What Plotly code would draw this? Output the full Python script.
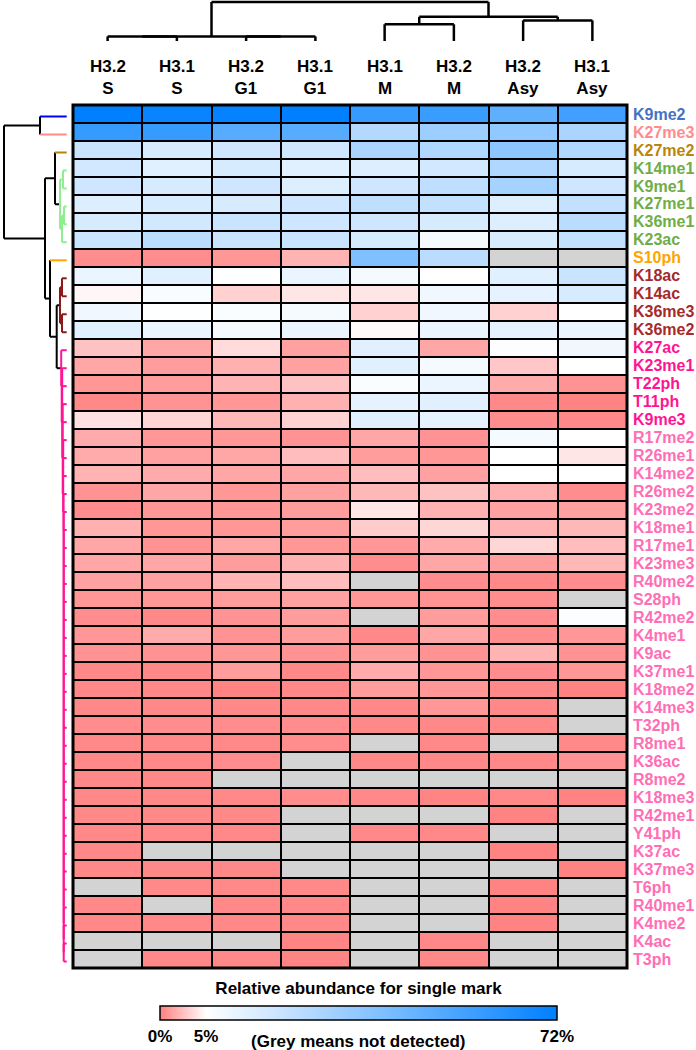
import plotly.graph_objects as go

FONT = "Liberation Sans, Arial, sans-serif"
W, H = 696, 1050

# ---------------- data ----------------
columns = ["H3.2<br>S", "H3.1<br>S", "H3.2<br>G1", "H3.1<br>G1",
           "H3.1<br>M", "H3.2<br>M", "H3.2<br>Asy", "H3.1<br>Asy"]

marks = ["K9me2", "K27me3", "K27me2", "K14me1", "K9me1", "K27me1", "K36me1", "K23ac",
         "S10ph", "K18ac", "K14ac", "K36me3", "K36me2", "K27ac", "K23me1", "T22ph",
         "T11ph", "K9me3", "R17me2", "R26me1", "K14me2", "R26me2", "K23me2", "K18me1",
         "R17me1", "K23me3", "R40me2", "S28ph", "R42me2", "K4me1", "K9ac", "K37me1",
         "K18me2", "K14me3", "T32ph", "R8me1", "K36ac", "R8me2", "K18me3", "R42me1",
         "Y41ph", "K37ac", "K37me3", "T6ph", "R40me1", "K4me2", "K4ac", "T3ph"]

# label colour groups (row clusters)
label_colors = (["#4472C4", "#FF8C8C", "#B8860B"] + ["#70AD47"] * 5 + ["#FFA500"]
                + ["#A52A2A"] * 4 + ["#FF1493"] * 5 + ["#FF6EB4"] * 30)
branch_colors = (["#0000FF", "#FF8A8A", "#B8860B"] + ["#90EE90"] * 5 + ["#FFA500"]
                 + ["#8B1A1A"] * 4 + ["#FF1493"] * 35)

N = None  # not detected
H32_S = [72, 58, 19.5, 17, 18, 14, 15.5, 19.5, 0.5, 10.3, 4.7, 9.0, 13, 2.6, 1.5, 0.9,
         0.3, 3.8, 1.7, 1.7, 2.0, 0.7, 0.5, 1.9, 1.5, 1.5, 1.3, 0.9, 0.5, 0.9, 0.7, 0.3,
         0.3, 0.3, 0.5, 0.3, 0.3, 0.3, 0.3, 0.3, 0.3, 0.3, 0.3, N, 0.3, 0.3, N, N]
H31_S = [70, 58, 15.5, 13, 15.5, 15.5, 17, 23.5, 0.5, 13, 6.8, 5.2, 10.3, 1.5, 1.1, 1.1,
         0.7, 3.4, 0.9, 1.3, 1.7, 1.5, 0.9, 0.9, 0.7, 1.5, 1.3, 0.9, 0.3, 1.7, 0.7, 0.3,
         0.3, 0.3, 0.5, 0.3, 0.3, 0.3, 0.3, 0.3, 0.3, N, 0.3, 0.3, N, 0.3, N, 0.3]
H32_G1 = [71, 49, 18, 15.5, 18, 15.5, 19.5, 19.5, 0.9, 5.0, 3.2, 6.3, 7.6, 3.6, 1.9, 2.0,
          0.9, 2.2, 0.9, 1.5, 1.5, 0.9, 0.9, 0.9, 1.5, 1.1, 2.0, 1.1, 0.7, 0.7, 0.9, 1.1,
          0.1, 0.3, 0.5, 0.3, 0.5, N, 0.3, 0.3, 0.3, N, 0.3, 0.3, 0.3, 0.3, N, 0.3]
H31_G1 = [72, 49, 18, 13, 14, 18, 18, 19.5, 2.0, 10.3, 4.0, 7.6, 10.3, 1.3, 1.3, 2.6,
          1.9, 3.2, 0.7, 2.4, 1.5, 1.3, 1.1, 1.1, 0.9, 1.9, 2.4, 1.3, 1.1, 1.1, 0.7, 0.3,
          0.3, 0.3, 0.5, 0.5, N, N, 0.5, N, N, N, N, 0.3, 0.3, 0.3, 0.2, 0.2]
H31_M = [58, 25, 27, 14, 18, 22, 18, 15.5, 38, 7.6, 4.0, 3.2, 4.8, 13, 13, 6.3,
         11.6, 13, 1.5, 1.1, 2.4, 2.2, 4.0, 3.0, 0.9, 0.5, N, 0.9, N, 0.3, 1.1, 1.7,
         1.1, 0.3, 0.3, N, 0.3, N, 0.3, N, 0.3, N, N, N, N, N, N, N]
H32_M = [57, 31, 26, 17, 22, 21, 15.5, 7.6, 23.5, 5.0, 9.0, 9.0, 10.3, 1.5, 7.6, 10.3,
         13, 11.6, 0.7, 0.9, 1.3, 2.6, 1.9, 3.4, 1.7, 1.5, 0.5, 0.7, 1.1, 1.5, 0.7, 0.9,
         0.9, 0.9, 0.3, 0.3, 0.3, N, 0.2, N, 0.3, N, N, N, N, N, 0.3, 0.3]
H32_Asy = [47, 34, 35, 26, 28.5, 14, 14, 15.5, N, 13, 11.6, 3.2, 11.6, 5.8, 2.8, 1.7,
           0.3, 0.5, 7.6, 5.0, 5.0, 1.9, 1.3, 2.0, 3.4, 1.1, 0.3, 0.5, 0.5, 0.5, 2.0, 0.5,
           0.3, 0.3, 0.3, N, 0.3, N, 0.3, 0.1, N, 0.1, N, 0.1, 0.1, 0.1, N, N]
H31_Asy = [55, 27, 26, 15.5, 18, 21, 23.5, 21, N, 19.5, 15.5, 5.0, 10.3, 9.0, 5.0, 0.7,
           0.1, 0.3, 5.0, 4.0, 5.0, 0.5, 1.3, 2.2, 2.4, 2.2, 0.5, N, 5.8, 0.9, 0.7, 0.9,
           0.1, N, N, 0.3, 0.7, N, 0.1, N, N, N, 0.1, N, N, N, N, N]

column_series = [H32_S, H31_S, H32_G1, H31_G1, H31_M, H32_M, H32_Asy, H31_Asy]

# colour scale ticks (percent)
scale_min, scale_mid, scale_max = 0.0, 5.0, 72.0
scale_ticktext = ["0%", "5%", "72%"]

# dendrogram merge heights (distance units)
col_tree = (((0, 1, 4.6, None), (2, 3, 4.6, None), 4.6, None),
            ((4, 5, 16.7, None), (6, 7, 20.6, None), 24.2, None),
            39.0, None)

pink_chain_heights = [5.5, 4.5, 5.0, 4.0, 4.5, 3.5, 4.0, 3.5, 3.2] + [3.0] * 25  # rows 13..46

# ---------------- helpers ----------------
WHITE_POS = 0.116  # position of the 5% stop on the colour bar


def to_scale(v):
    if v is None:
        return None
    if v <= scale_mid:
        return WHITE_POS * (v - scale_min) / (scale_mid - scale_min)
    return WHITE_POS + (1 - WHITE_POS) * (v - scale_mid) / (scale_max - scale_mid)


def px(x):
    return x / W


def py(y):
    return 1 - y / H


nrows, ncols = len(marks), len(columns)
z = [[to_scale(column_series[c][r]) for c in range(ncols)] for r in range(nrows)]
zmiss = [[1 if column_series[c][r] is None else None for c in range(ncols)] for r in range(nrows)]

# row tree
G = branch_colors[3]
R = branch_colors[9]
P = branch_colors[13]
green = ((3, 4, 3.7, G), ((5, 6, 2.7, G), 7, 4.7, G), 6.7, G)
brown = ((9, 10, 4.7, R), (11, 12, 4.7, R), 6.7, R)
pink = nrows - 1
for i in range(nrows - 2, 12, -1):
    pink = (i, pink, pink_chain_heights[i - 13], P)
row_tree = ((0, 1, 26.7, None),
            ((2, green, 11.7, None), (8, (brown, pink, 10.0, None), 16.7, None), 21.7, None),
            62.7, None)


def draw(node, segs, leaf_color):
    if isinstance(node, int):
        return float(node), 0.0, leaf_color[node], True
    left, right, h, col = node
    pl, hl, cl, il = draw(left, segs, leaf_color)
    pr, hr, cr, ir = draw(right, segs, leaf_color)
    segs.append((h, pl, h, pr, col or "black"))
    for p, hc, cc, isleaf in ((pl, hl, cl, il), (pr, hr, cr, ir)):
        hcol = col if col else (cc if isleaf else "black")
        segs.append((hc, p, h, p, hcol))
    return (pl + pr) / 2, h, col, False


def seg_traces(segs, horizontal_height, xa, ya, width):
    by_color = {}
    for h0, p0, h1, p1, c in segs:
        xs, ys = by_color.setdefault(c, ([], []))
        if horizontal_height:
            xs += [h0, h1, None]
            ys += [p0, p1, None]
        else:
            xs += [p0, p1, None]
            ys += [h0, h1, None]
    out = []
    for c, (xs, ys) in by_color.items():
        out.append(go.Scatter(x=xs, y=ys, mode="lines", xaxis=xa, yaxis=ya,
                              line=dict(color=c, width=width), hoverinfo="skip",
                              showlegend=False))
    return out


# ---------------- figure ----------------
HX0, HX1, HY0, HY1 = 73, 627, 105, 968
fig = go.Figure()

colorscale = [[0, "rgb(255,128,128)"], [WHITE_POS, "rgb(255,255,255)"], [1, "rgb(0,128,255)"]]
fig.add_trace(go.Heatmap(
    z=z, x=list(range(ncols)), y=list(range(nrows)), zmin=0, zmax=1,
    colorscale=colorscale, xgap=2, ygap=2, hoverinfo="skip",
    colorbar=dict(orientation="h", x=358.5 / W, xanchor="center", y=py(987), yanchor="top",
                  len=397 / W, lenmode="fraction", thickness=14, thicknessmode="pixels",
                  outlinewidth=1.5, outlinecolor="black", xpad=0, ypad=0,
                  tickvals=[to_scale(scale_min), to_scale(scale_mid), to_scale(scale_max)],
                  ticktext=scale_ticktext, ticks="",
                  tickfont=dict(family=FONT, size=17, color="black", weight="bold"),
                  title=dict(text="Relative abundance for single mark", side="top",
                             font=dict(family=FONT, size=17, color="black", weight="bold"))),
))
fig.add_trace(go.Heatmap(
    z=zmiss, x=list(range(ncols)), y=list(range(nrows)), zmin=0, zmax=1,
    colorscale=[[0, "#D3D3D3"], [1, "#D3D3D3"]], showscale=False,
    xgap=2, ygap=2, hoverinfo="skip"))

segs_rows = []
draw(row_tree, segs_rows, branch_colors)
for t in seg_traces(segs_rows, True, "x2", "y2", 2):
    fig.add_trace(t)

segs_cols = []
draw(col_tree, segs_cols, ["black"] * ncols)
for t in seg_traces(segs_cols, False, "x", "y3", 2.5):
    fig.add_trace(t)

hid = dict(showgrid=False, zeroline=False, showticklabels=False, showline=False,
           ticks="", automargin=False)

fig.update_layout(
    width=W, height=H, margin=dict(l=0, r=0, t=0, b=0), template="none",
    paper_bgcolor="white", plot_bgcolor="rgba(0,0,0,0)",
    font=dict(family=FONT, color="black"),
    xaxis=dict(domain=[px(HX0), px(HX1)], range=[-0.5, ncols - 0.5], **hid),
    yaxis=dict(domain=[py(HY1), py(HY0)], range=[nrows - 0.5, -0.5], side="right",
               tickvals=list(range(nrows)),
               ticktext=[f'<span style="color:{c}">{m}</span>' for m, c in zip(marks, label_colors)],
               tickfont=dict(family=FONT, size=16, weight="bold"),
               showgrid=False, zeroline=False, showline=False, ticks="",
               ticklabelstandoff=5, automargin=False),
    xaxis2=dict(domain=[0, px(HX0)], range=[66.7, 66.7 - HX0], anchor="y2", **hid),
    yaxis2=dict(domain=[py(HY1 + 2.5), py(HY0 + 2.5)], range=[nrows - 0.5, -0.5],
                anchor="x2", **hid),
    yaxis3=dict(domain=[py(41), py(0)], range=[0, 41], anchor="x", **hid),
    shapes=[
        dict(type="rect", xref="paper", yref="paper", x0=px(HX0), x1=px(HX1),
             y0=py(HY1), y1=py(HY0), fillcolor="black", line=dict(width=0), layer="below"),
        dict(type="rect", xref="paper", yref="paper", x0=px(HX0), x1=px(HX1),
             y0=py(HY1), y1=py(HY0), fillcolor="rgba(0,0,0,0)",
             line=dict(color="black", width=3), layer="above"),
    ],
)

annotations = []
for i, c in enumerate(columns):
    annotations.append(dict(text=c, x=i, xref="x", y=py(77.3), yref="paper",
                            showarrow=False, xanchor="center", yanchor="middle",
                            font=dict(family=FONT, size=17, color="black", weight="bold")))
annotations.append(dict(text="(Grey means not detected)", x=357.5 / W, xref="paper",
                        y=py(1041), yref="paper", showarrow=False, xanchor="center",
                        yanchor="middle",
                        font=dict(family=FONT, size=17, color="black", weight="bold")))
fig.update_layout(annotations=annotations)

fig.write_html("out.html", config={"displayModeBar": False},
               post_script="document.body.style.margin='0';document.body.style.overflow='hidden';")
